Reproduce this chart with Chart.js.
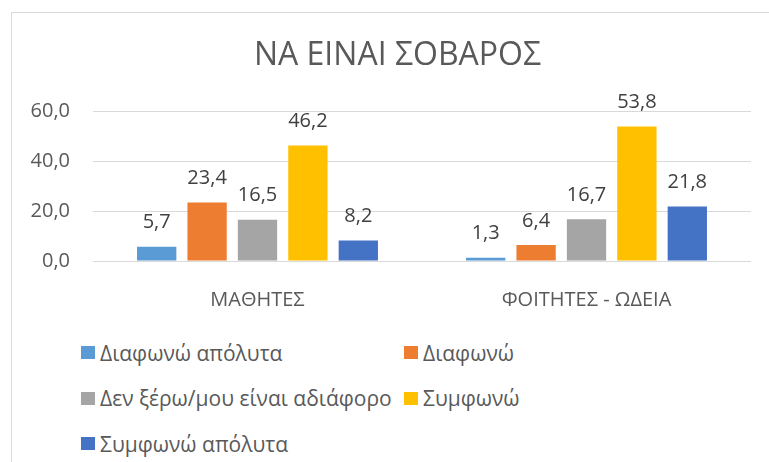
<!DOCTYPE html>
<html>
<head>
<meta charset="utf-8">
<script src="https://cdn.jsdelivr.net/npm/chart.js@4/dist/chart.umd.min.js"></script>
<style>
  html, body { margin: 0; padding: 0; background: #fff; overflow: hidden; }
  body { width: 769px; height: 462px; position: relative; }
  #frame {
    position: absolute; left: 11px; top: 12px;
    width: 771px; height: 470px;
    border: 1px solid #d9d9d9;
  }
  #wrap { position: absolute; left: 0; top: 0; width: 771px; height: 300px; }
  #legend {
    position: absolute; left: 69px; top: 317px;
    display: grid; grid-template-columns: 323px 323px;
    grid-auto-rows: 45.5px;
    font-family: "Open Sans", sans-serif; font-size: 21px; color: #595959;
  }
  .item { display: flex; align-items: center; white-space: nowrap; }
  .box { width: 14px; height: 13px; margin-right: 5px; flex: none; }
</style>
</head>
<body>
<div id="frame">
  <div id="wrap"><canvas id="chart"></canvas></div>
  <div id="legend"></div>
</div>
<script>
const chartTitle = 'ΝΑ ΕΙΝΑΙ ΣΟΒΑΡΟΣ';
const categories = ['ΜΑΘΗΤΕΣ', 'ΦΟΙΤΗΤΕΣ - ΩΔΕΙΑ'];
const seriesNames = ['Διαφωνώ απόλυτα', 'Διαφωνώ', 'Δεν ξέρω/μου είναι αδιάφορο', 'Συμφωνώ', 'Συμφωνώ απόλυτα'];
const diafonoApoluta = [5.7, 1.3];
const diafono = [23.4, 6.4];
const denXero = [16.5, 16.7];
const symfono = [46.2, 53.8];
const symfonoApoluta = [8.2, 21.8];
const yTicks = [0, 20, 40, 60];
const colors = ['#5B9BD5', '#ED7D31', '#A5A5A5', '#FFC000', '#4472C4'];

const fmt = v => v.toFixed(1).replace('.', ',');

const values = [diafonoApoluta, diafono, denXero, symfono, symfonoApoluta];
const datasets = seriesNames.map((name, i) => ({
    label: name,
    data: values[i],
    backgroundColor: colors[i],
    categoryPercentage: 0.766,
    barPercentage: 0.78
}));

// value labels above bars + title centred on the whole frame
const barLabels = {
    id: 'barLabels',
    afterDatasetsDraw(chart) {
        const ctx = chart.ctx;
        ctx.save();
        ctx.font = '20px "Open Sans", sans-serif';
        ctx.fillStyle = '#404040';
        ctx.textAlign = 'center';
        ctx.textBaseline = 'middle';
        chart.data.datasets.forEach((ds, i) => {
            chart.getDatasetMeta(i).data.forEach((bar, j) => {
                ctx.fillText(fmt(ds.data[j]), bar.x, bar.y - 24);
            });
        });
        ctx.font = '32px "Open Sans", sans-serif';
        ctx.fillStyle = '#595959';
        ctx.fillText(chartTitle, chart.width / 2, 43);
        ctx.restore();
    }
};

new Chart(document.getElementById('chart'), {
    type: 'bar',
    data: { labels: categories, datasets: datasets },
    plugins: [barLabels],
    options: {
        responsive: true,
        maintainAspectRatio: false,
        animation: false,
        layout: { padding: { left: 0, right: 32, top: 98, bottom: 0 } },
        plugins: {
            legend: { display: false },
            tooltip: { enabled: false },
            title: { display: false }
        },
        scales: {
            x: {
                grid: { display: false },
                border: { display: false },
                ticks: {
                    color: '#595959',
                    font: { family: '"Open Sans", sans-serif', size: 20 },
                    padding: 19
                },
                afterFit(scale) { scale.height = 52; }
            },
            y: {
                min: 0,
                max: 60,
                afterBuildTicks(scale) { scale.ticks = yTicks.map(v => ({ value: v })); },
                grid: { color: '#d9d9d9', lineWidth: 1, drawTicks: false },
                border: { display: false },
                ticks: {
                    color: '#595959',
                    font: { family: '"Open Sans", sans-serif', size: 20 },
                    padding: 23,
                    callback: v => fmt(v)
                },
                afterFit(scale) { scale.width = 81; }
            }
        }
    }
});

const legend = document.getElementById('legend');
seriesNames.forEach((name, i) => {
    const item = document.createElement('div');
    item.className = 'item';
    item.innerHTML = '<span class="box" style="background:' + colors[i] + '"></span><span>' + name + '</span>';
    legend.appendChild(item);
});
</script>
</body>
</html>
